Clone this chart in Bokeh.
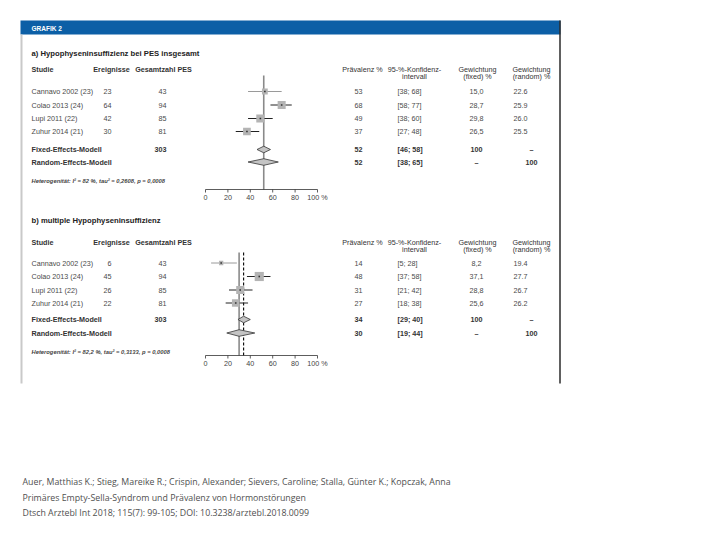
import math
from bokeh.plotting import figure
from bokeh.models import Range1d
from bokeh.core.properties import value
from bokeh.embed import file_html
from bokeh.resources import INLINE

# ---------------- data ----------------
studies = ["Cannavo 2002 (23)", "Colao 2013 (24)", "Lupi 2011 (22)", "Zuhur 2014 (21)"]
totals = [43, 94, 85, 81]
total_sum = 303

a_title = "a) Hypophyseninsuffizienz bei PES insgesamt"
a_events = [23, 64, 42, 30]
a_prev = [53, 68, 49, 37]
a_lo = [38, 58, 38, 27]
a_hi = [68, 77, 60, 48]
a_wfixed = [15.0, 28.7, 29.8, 26.5]
a_wrandom = [22.6, 25.9, 26.0, 25.5]
a_fixed = [52, 46, 58]     # estimate, lower, upper
a_random = [52, 38, 65]
a_het = "Heterogenität: I² = 82 %, tau² = 0,2608, p = 0,0008"

b_title = "b) multiple Hypophyseninsuffizienz"
b_events = [6, 45, 26, 22]
b_prev = [14, 48, 31, 27]
b_lo = [5, 37, 21, 18]
b_hi = [28, 58, 42, 38]
b_wfixed = [8.2, 37.1, 28.8, 25.6]
b_wrandom = [19.4, 27.7, 26.7, 26.2]
b_fixed = [34, 29, 40]
b_random = [30, 19, 44]
b_het = "Heterogenität: I² = 82,2 %, tau² = 0,3133, p = 0,0008"

ticks = [0, 20, 40, 60, 80, 100]
tick_labels = ["0", "20", "40", "60", "80", "100 %"]

citation = [
    "Auer, Matthias K.; Stieg, Mareike R.; Crispin, Alexander; Sievers, Caroline; Stalla, Günter K.; Kopczak, Anna",
    "Primäres Empty-Sella-Syndrom und Prävalenz von Hormonstörungen",
    "Dtsch Arztebl Int 2018; 115(7): 99-105; DOI: 10.3238/arztebl.2018.0099",
]

# ---------------- layout ----------------
W, H = 704, 524
AX0, AXS = 205.0, 1.12          # page x of 0 %, pixels per %


def X(px):
    return (px - AX0) / AXS


FONT = value("Liberation Sans")
p = figure(width=W, height=H, x_range=Range1d(X(0), X(W)), y_range=Range1d(H, 0),
           output_backend="svg", toolbar_location=None, min_border=0,
           x_axis_location=None, y_axis_location=None)
p.grid.visible = False
p.outline_line_color = None
p.background_fill_color = "white"
p.border_fill_color = "white"


def txt(xs_px, ys, texts, size="7.2px", style="normal", align="left", color="#4a4a4a", font=FONT):
    p.text(x=[X(v) for v in xs_px], y=ys, text=texts, text_font=font, text_font_size=size,
           text_font_style=style, text_align=align, text_baseline="middle", text_color=color)


def fmt_c(v):
    return ("%.1f" % v).replace(".", ",")


# header bar and frame
p.quad(left=[X(20)], right=[X(560)], top=[20], bottom=[34], fill_color="#0c5fa6", line_color=None)
txt([31], [27.5], ["GRAFIK 2"], size="6.5px", style="bold", color="white")
p.segment(x0=[X(21)], y0=[34], x1=[X(21)], y1=[383], line_color="#c9c9c9", line_width=2)
p.segment(x0=[X(559.5)], y0=[20], x1=[X(559.5)], y1=[383], line_color="#2b2b2b", line_width=1.5)


def panel(title, events, prev, lo, hi, wf, wr, fixed, random, het, L):
    n = len(studies)
    rows = L["rows"]
    txt([31], [L["title"]], [title], size="7.7px", style="bold", color="#222")
    # headers
    hy, hy2 = L["head"], L["head"] + 7
    txt([31], [hy], ["Studie"], style="bold", color="#333")
    txt([111], [hy], ["Ereignisse"], style="bold", color="#333", align="center")
    txt([163], [hy], ["Gesamtzahl PES"], style="bold", color="#333", align="center")
    txt([362], [hy], ["Prävalenz %"], color="#333", align="center")
    txt([414, 414], [hy, hy2], ["95-%-Konfidenz-", "intervall"], color="#333", align="center")
    txt([477, 477], [hy, hy2], ["Gewichtung", "(fixed) %"], color="#333", align="center")
    txt([531, 531], [hy, hy2], ["Gewichtung", "(random) %"], color="#333", align="center")
    # study rows
    txt([31] * n, rows, studies)
    txt([111] * n, rows, [str(v) for v in events], align="right")
    txt([166] * n, rows, [str(v) for v in totals], align="right")
    txt([358] * n, rows, [str(v) for v in prev], align="center")
    txt([397] * n, rows, ["[%d; %d]" % (a, b) for a, b in zip(lo, hi)])
    txt([476] * n, rows, [fmt_c(v) for v in wf], align="center")
    txt([520] * n, rows, ["%.1f" % v for v in wr], align="center")
    # summary rows
    fy, ry = L["fixed"], L["random"]
    txt([31, 31], [fy, ry], ["Fixed-Effects-Modell", "Random-Effects-Modell"], style="bold", color="#333")
    txt([166], [fy], [str(total_sum)], style="bold", color="#333", align="right")
    txt([358, 358], [fy, ry], [str(fixed[0]), str(random[0])], style="bold", color="#333", align="center")
    txt([397, 397], [fy, ry], ["[%d; %d]" % (fixed[1], fixed[2]), "[%d; %d]" % (random[1], random[2])],
        style="bold", color="#333")
    txt([476, 476], [fy, ry], ["100", "–"], style="bold", color="#333", align="center")
    txt([531, 531], [fy, ry], ["–", "100"], style="bold", color="#333", align="center")
    txt([31], [L["het"]], [het], size="5.8px", style="bold italic", color="#444")

    # reference lines
    ax = L["axis"]
    p.segment(x0=[random[0]], y0=[L["top"]], x1=[random[0]], y1=[ax], line_color="#8a8a8a", line_width=1.6)
    if fixed[0] != random[0]:
        p.segment(x0=[fixed[0]], y0=[L["top"]], x1=[fixed[0]], y1=[ax], line_color="#111",
                  line_width=1.2, line_dash="3 2")
    # CI lines
    ci_cols = ["#9a9a9a"] + ["#222"] * (n - 1)
    p.segment(x0=lo, y0=rows, x1=hi, y1=rows, line_color=ci_cols, line_width=1)
    # squares (size ~ fixed weight)
    p.scatter(x=prev, y=rows, marker="square", size=[1.5 * math.sqrt(w) for w in wf],
              fill_color="#b4b4b4", line_color=None)
    p.scatter(x=prev, y=rows, marker="square", size=1.6, fill_color="#333", line_color=None)
    # diamonds
    h = 3.3
    xs = [[fixed[1], fixed[0], fixed[2], fixed[0]], [random[1], random[0], random[2], random[0]]]
    ys = [[fy, fy - h, fy, fy + h], [ry, ry - h, ry, ry + h]]
    p.patches(xs=xs, ys=ys, fill_color="#c4c4c4", line_color="#333", line_width=0.8)
    # axis
    p.segment(x0=[ticks[0]], y0=[ax], x1=[ticks[-1]], y1=[ax], line_color="#333", line_width=0.8)
    p.segment(x0=ticks, y0=[ax] * len(ticks), x1=ticks, y1=[ax + 3] * len(ticks), line_color="#333",
              line_width=0.8)
    p.text(x=ticks, y=[ax + 8] * len(ticks), text=tick_labels, text_font=FONT, text_font_size="7.2px",
           text_align="center", text_baseline="middle", text_color="#444")


panel(a_title, a_events, a_prev, a_lo, a_hi, a_wfixed, a_wrandom, a_fixed, a_random, a_het,
      dict(title=53, head=69, rows=[91, 104.5, 118, 131], fixed=149, random=161.5, het=180,
           top=75, axis=189))
panel(b_title, b_events, b_prev, b_lo, b_hi, b_wfixed, b_wrandom, b_fixed, b_random, b_het,
      dict(title=219.5, head=242, rows=[262.5, 276, 289.5, 302.5], fixed=319, random=332.5, het=351.5,
           top=252, axis=355))

# citation
txt([22, 22, 22], [481, 497, 512.5], citation, size="8.8px", color="#505050", font=value("Open Sans"))

open("out.html", "w").write(file_html(p, INLINE))
